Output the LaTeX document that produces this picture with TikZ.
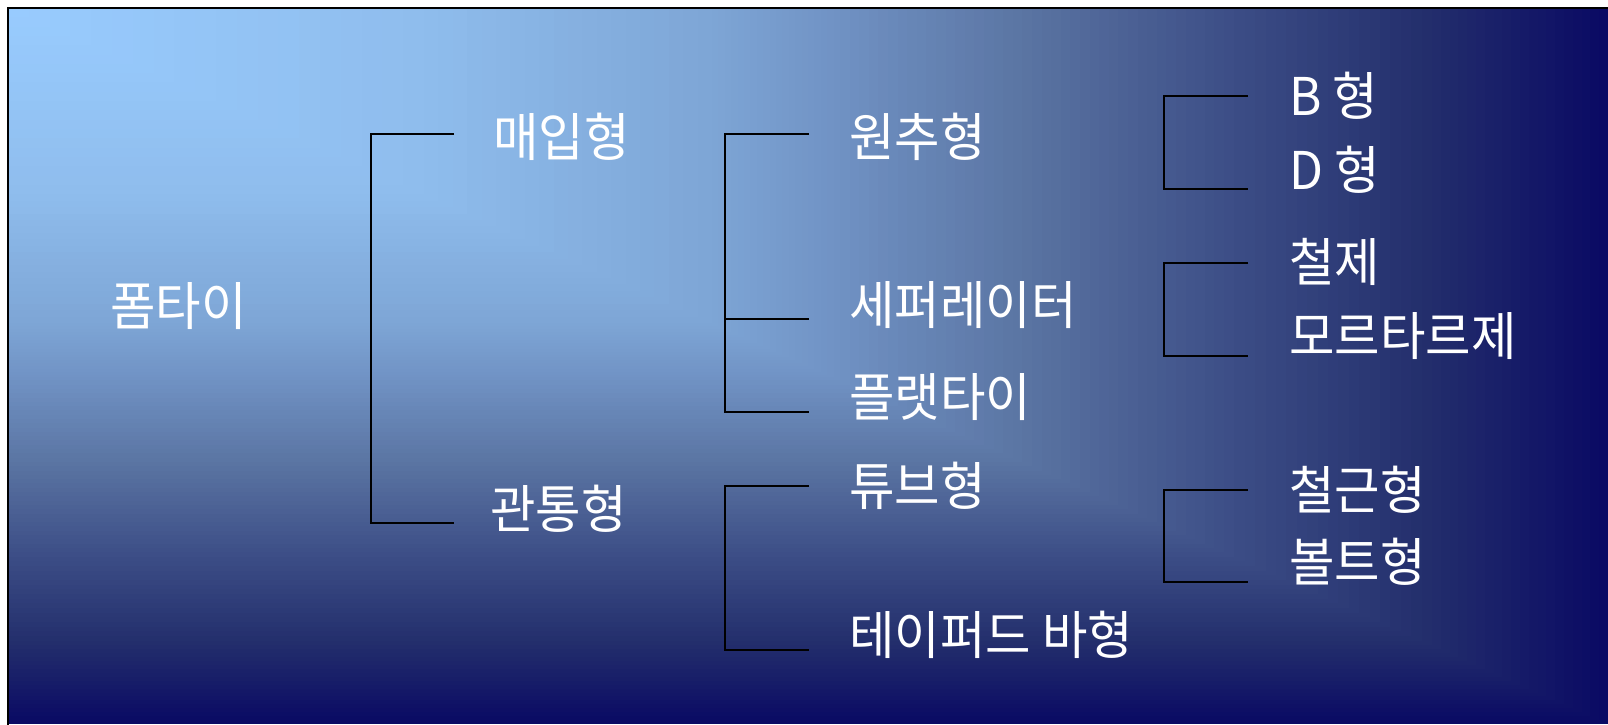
\documentclass[tikz,border=0pt]{standalone}
\usepackage{fontspec}
\newfontfamily\kr[FakeStretch=0.95]{Noto Sans CJK KR}
\definecolor{g0}{RGB}{153,204,255}
\definecolor{g1}{RGB}{143,189,237}
\definecolor{g2}{RGB}{126,166,214}
\definecolor{g3}{RGB}{112,146,196}
\definecolor{g4}{RGB}{90,116,162}
\definecolor{g5}{RGB}{62,80,136}
\definecolor{g6}{RGB}{35,46,108}
\definecolor{g7}{RGB}{10,10,100}
\tikzset{
  lbl/.style={anchor=west,inner sep=0pt,text=white,font=\kr\fontsize{52}{62}\selectfont},
  brk/.style={draw=black,line width=1.6pt},
}
\begin{document}
\begin{tikzpicture}[x=1pt,y=-1pt]
\useasboundingbox (0,0) rectangle (1608,724);
\fill[white] (0,0) rectangle (1608,724);
% corner gradient background
\foreach \ta/\tb/\ca/\cb in {0.89/1.0/g6/g7,0.76/0.89/g5/g6,0.64/0.76/g4/g5,0.52/0.64/g3/g4,0.44/0.52/g2/g3,0.26/0.44/g1/g2,0/0.26/g0/g1}{
  \foreach \k in {0,...,19}{
    \pgfmathsetmacro\t{\tb-(\tb-\ta)*\k/20}
    \pgfmathtruncatemacro\p{\k*5}
    \fill[\ca!\p!\cb] (8,8) rectangle ({8+\t*1600},{8+\t*716});
  }
}
\draw[line width=2.5pt,line cap=rect] (8,724) -- (8,8) -- (1608,8);

% labels
\node[lbl] (root) at (110,306) {폼타이};
\node[lbl] (a1) at (493,137) {매입형};
\node[lbl] (a2) at (490,509) {관통형};
\node[lbl] (b1) at (849,137) {원추형};
\node[lbl] (b2) at (849,305) {세퍼레이터};
\node[lbl] (b3) at (849,397) {플랫타이};
\node[lbl] (b4) at (849,486) {튜브형};
\node[lbl] (b5) at (849,635) {테이퍼드 바형};
\node[lbl] (c1) at (1289,96) {B 형};
\node[lbl] (c2) at (1289,170) {D 형};
\node[lbl] (c3) at (1289,262) {철제};
\node[lbl] (c4) at (1289,336) {모르타르제};
\node[lbl] (c5) at (1289,490) {철근형};
\node[lbl] (c6) at (1289,562) {볼트형};

% bracket coordinates
\coordinate (k1t) at (454,134); \coordinate (k1v) at (371,300); \coordinate (k1b) at (454,523);
\coordinate (k2t) at (809,134); \coordinate (k2v) at (725,300); \coordinate (k2m) at (809,319); \coordinate (k2b) at (809,412);
\coordinate (k3t) at (809,486); \coordinate (k3v) at (725,560); \coordinate (k3b) at (809,650);
\coordinate (k4t) at (1248,96);  \coordinate (k4v) at (1164,140); \coordinate (k4b) at (1248,189);
\coordinate (k5t) at (1248,263); \coordinate (k5v) at (1164,300); \coordinate (k5b) at (1248,356);
\coordinate (k6t) at (1248,490); \coordinate (k6v) at (1164,530); \coordinate (k6b) at (1248,582);

\draw[brk] (k1t) -| (k1v) |- (k1b);
\draw[brk] (k2t) -| (k2v) |- (k2b);
\draw[brk] (k2m) -- (k2m -| k2v);
\draw[brk] (k3t) -| (k3v) |- (k3b);
\draw[brk] (k4t) -| (k4v) |- (k4b);
\draw[brk] (k5t) -| (k5v) |- (k5b);
\draw[brk] (k6t) -| (k6v) |- (k6b);
\end{tikzpicture}
\end{document}
